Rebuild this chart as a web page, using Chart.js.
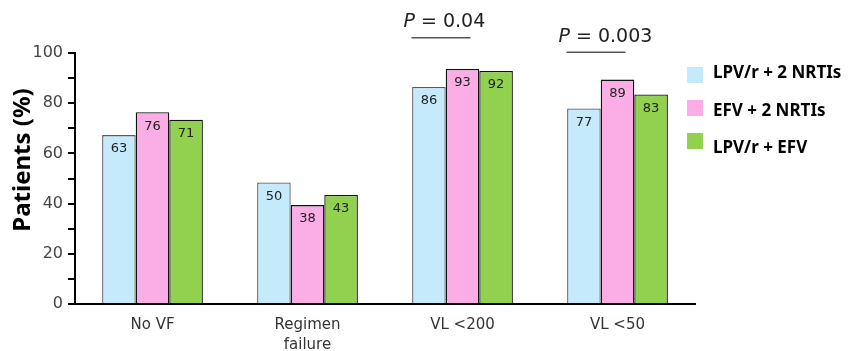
<!DOCTYPE html>
<html>
<head>
<meta charset="utf-8">
<script src="https://cdn.jsdelivr.net/npm/chart.js@4/dist/chart.umd.min.js"></script>
<style>
  html, body { margin: 0; padding: 0; background: #fff; }
  #wrap { width: 850px; height: 351px; }
</style>
</head>
<body>
<div id="wrap"><canvas id="myChart" width="850" height="351"></canvas></div>
<script>
// categories and series
const categories = ['No VF', ['Regimen', 'failure'], 'VL <200', 'VL <50'];
const seriesNames = ['LPV/r + 2 NRTIs', 'EFV + 2 NRTIs', 'LPV/r + EFV'];

// bar heights as drawn in the picture
const lpvNrti = [67.3, 48.4, 86.5, 77.9];
const efvNrti = [76.4, 39.4, 93.6, 89.4];
const lpvEfv = [73.4, 43.4, 92.8, 83.5];

// numbers printed inside the bars
const lpvNrtiLabels = ['63', '50', '86', '77'];
const efvNrtiLabels = ['76', '38', '93', '89'];
const lpvEfvLabels = ['71', '43', '92', '83'];

// p values over groups
const pValues = [null, null, '0.04', '0.003'];

const yTicks = [0, 20, 40, 60, 80, 100];

const colors = ['#C5EAFB', '#FBAEE5', '#92D050'];
const borders = ['#5a5a5a', '#111111', '#111111'];
const labelSets = [lpvNrtiLabels, efvNrtiLabels, lpvEfvLabels];

// numbers inside bars
const barLabels = {
  id: 'barLabels',
  afterDatasetsDraw(chart) {
    const ctx = chart.ctx;
    ctx.save();
    ctx.font = '13px "DejaVu Sans"';
    ctx.fillStyle = '#222';
    ctx.textAlign = 'center';
    ctx.textBaseline = 'middle';
    chart.data.datasets.forEach((ds, i) => {
      chart.getDatasetMeta(i).data.forEach((bar, j) => {
        ctx.fillText(labelSets[i][j], bar.x, bar.y + 14);
      });
    });
    ctx.restore();
  }
};

// y title, legend and p values
const extras = {
  id: 'extras',
  afterDraw(chart) {
    const ctx = chart.ctx;
    const x = chart.scales.x;
    ctx.save();

    // y axis title
    ctx.translate(23, 160);
    ctx.rotate(-Math.PI / 2);
    ctx.font = 'bold 24px "Noto Sans"';
    ctx.fillStyle = '#000';
    ctx.textAlign = 'center';
    ctx.textBaseline = 'middle';
    ctx.fillText('Patients (%)', 0, 0);
    ctx.setTransform(1, 0, 0, 1, 0, 0);

    // legend
    ctx.textAlign = 'left';
    ctx.font = 'bold 17px "Noto Sans"';
    const txtOff = [-2, 3, 7];
    chart.data.datasets.forEach((ds, i) => {
      const top = 67 + i * 33;
      ctx.fillStyle = ds.backgroundColor;
      ctx.fillRect(687, top, 16, 16);
      ctx.fillStyle = '#000';
      ctx.fillText(ds.label, 713, top + 8 + txtOff[i]);
    });

    // p values
    const lvl = [null, null, [21.7, 37.7], [36.7, 52.3]];
    pValues.forEach((p, j) => {
      if (!p) return;
      const cx = x.getPixelForValue(j);
      const sx = cx - 59;
      ctx.font = 'oblique 19px "DejaVu Sans"';
      ctx.fillStyle = '#222';
      ctx.textBaseline = 'middle';
      ctx.fillText('P', sx, lvl[j][0]);
      const w = ctx.measureText('P').width;
      ctx.font = '19px "DejaVu Sans"';
      ctx.fillText(' = ' + p, sx + w, lvl[j][0]);
      ctx.strokeStyle = '#555';
      ctx.lineWidth = 1.5;
      ctx.beginPath();
      ctx.moveTo(cx - 51, lvl[j][1]);
      ctx.lineTo(cx + 8, lvl[j][1]);
      ctx.stroke();
    });
    ctx.restore();
  }
};

const ctx = document.querySelector('#myChart').getContext('2d');
const chart = new Chart(ctx, {
  type: 'bar',
  data: {
    labels: categories,
    datasets: [lpvNrti, efvNrti, lpvEfv].map((d, i) => ({
      label: seriesNames[i],
      data: d,
      backgroundColor: colors[i],
      borderColor: borders[i],
      borderWidth: 1.3,
      barPercentage: 1,
      categoryPercentage: 0.65
    }))
  },
  options: {
    responsive: false,
    animation: false,
    layout: { padding: { left: 0, right: 155, top: 53, bottom: 0 } },
    plugins: { legend: { display: false }, tooltip: { enabled: false } },
    scales: {
      x: {
        grid: { display: false },
        border: { display: true, color: '#000', width: 2 },
        ticks: { color: '#333', font: { family: 'DejaVu Sans', size: 15, lineHeight: 1.35 }, padding: 3, maxRotation: 0 },
        afterFit(s) { s.height = 47; }
      },
      y: {
        min: 0,
        max: 100,
        afterBuildTicks(s) {
          s.ticks = [];
          for (let v = 0; v <= 100; v += 10) s.ticks.push({ value: v });
        },
        grid: { drawOnChartArea: false, drawTicks: true, tickLength: 7, color: '#000', lineWidth: 2 },
        border: { display: true, color: '#000', width: 2 },
        ticks: {
          color: '#444',
          font: { family: 'DejaVu Sans', size: 16 },
          padding: 5,
          callback: (v) => yTicks.includes(v) ? String(v) : ''
        },
        afterFit(s) { s.width = 75; }
      }
    }
  },
  plugins: [barLabels, extras]
});
</script>
</body>
</html>
